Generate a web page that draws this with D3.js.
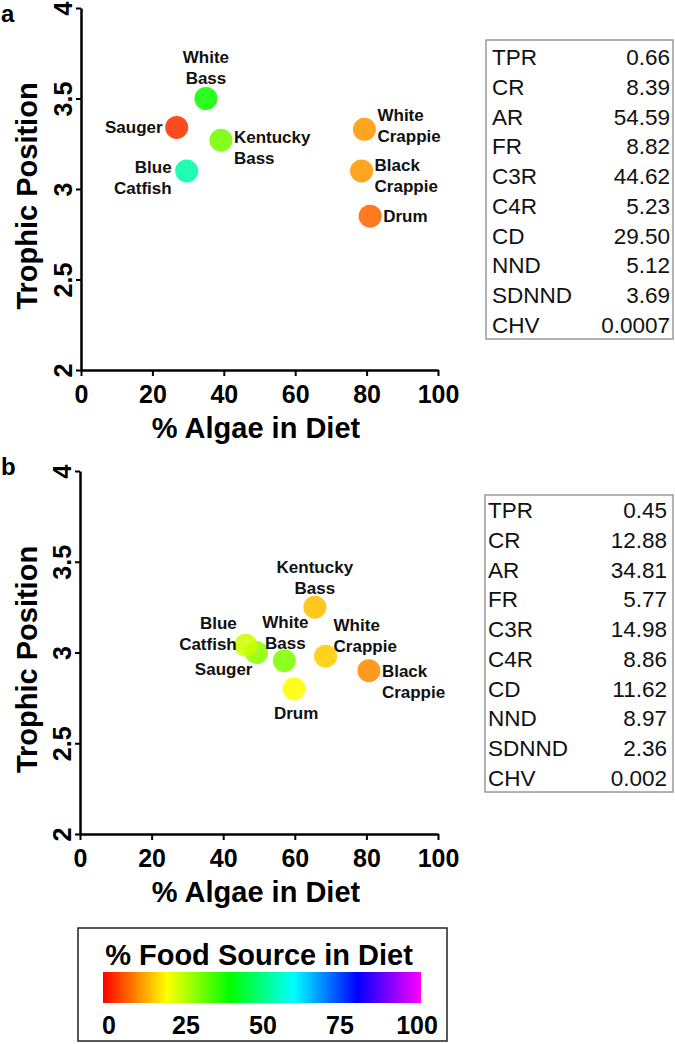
<!DOCTYPE html>
<html>
<head>
<meta charset="utf-8">
<script src="https://cdn.jsdelivr.net/npm/d3@7"></script>
<style>
  html, body { margin: 0; padding: 0; background: #fff; }
  svg { display: block; }
  text { font-family: "Liberation Sans", Arial, Helvetica, sans-serif; }
</style>
</head>
<body>
<svg id="chart" width="675" height="1044"></svg>
<script>
// ---------- data ----------
const species = ["White Bass", "Sauger", "Kentucky Bass", "Blue Catfish", "White Crappie", "Black Crappie", "Drum"];

// panel a
const algaeA = [35.0, 26.8, 39.2, 29.6, 79.4, 78.6, 81.0];
const trophicA = [3.50, 3.34, 3.27, 3.10, 3.33, 3.10, 2.85];
const foodA = [39, 4, 31, 53, 12, 12, 8];

// panel b
const algaeB = [57.1, 49.3, 65.6, 46.3, 68.6, 80.7, 59.8];
const trophicB = [2.955, 3.00, 3.25, 3.04, 2.98, 2.90, 2.80];
const foodB = [30, 29, 15, 24, 16, 11, 20];

const xTicks = [0, 20, 40, 60, 80, 100];
const yTicks = [2, 2.5, 3, 3.5, 4];

const statLabels = ["TPR", "CR", "AR", "FR", "C3R", "C4R", "CD", "NND", "SDNND", "CHV"];
const statsA = ["0.66", "8.39", "54.59", "8.82", "44.62", "5.23", "29.50", "5.12", "3.69", "0.0007"];
const statsB = ["0.45", "12.88", "34.81", "5.77", "14.98", "8.86", "11.62", "8.97", "2.36", "0.002"];

const legendTicks = [0, 25, 50, 75, 100];
const rainbowStops = [0, 20, 40, 60, 80, 100];
const rainbowColors = ["#ff0000", "#ffff00", "#00ff00", "#00ffff", "#0000ff", "#ff00ff"];

// label placement (layout, not data): [anchor, dx, dy]
const labelLayoutA = [["middle", 0, -42], ["end", -14, 0], ["start", 13, -3], ["end", -15, -4], ["start", 13, -14], ["start", 13, -6], ["start", 13, 0]];
const labelLayoutB = [["middle", 1, -39], ["end", -4, 16], ["middle", 0, -40], ["end", -9, -22], ["start", 8, -31], ["start", 13, 0], ["middle", 2, 24]];

// ---------- drawing ----------
const svg = d3.select("#chart");
const color = d3.scaleLinear().domain(rainbowStops).range(rainbowColors).interpolate(d3.interpolateRgb);

function panel(cfg) {
  const x = d3.scaleLinear().domain([0, 100]).range([cfg.x0, cfg.x1]);
  const y = d3.scaleLinear().domain([2, 4]).range([cfg.yBottom, cfg.yTop]);
  const g = svg.append("g");

  // x axis
  const xa = g.append("g").attr("transform", `translate(0,${cfg.yBottom})`)
    .call(d3.axisBottom(x).tickValues(xTicks).tickFormat(d3.format("d")).tickSize(6).tickSizeOuter(0));
  // y axis
  const ya = g.append("g").attr("transform", `translate(${cfg.x0},0)`)
    .call(d3.axisLeft(y).tickValues(yTicks).tickFormat(d => d).tickSize(5).tickSizeOuter(0));

  [xa, ya].forEach(a => {
    a.select(".domain").attr("stroke", "#000").attr("stroke-width", 2.5);
    a.selectAll(".tick line").attr("stroke", "#000").attr("stroke-width", 2);
    a.selectAll(".tick text").attr("fill", "#000").attr("font-size", 25).attr("font-weight", "bold")
      .attr("font-family", "Liberation Sans, Arial, sans-serif");
  });
  xa.selectAll(".tick text").attr("y", 33).attr("dy", 0);
  ya.selectAll(".tick text").attr("x", 0).attr("y", -9).attr("dy", 0)
    .attr("text-anchor", "middle").attr("transform", "rotate(-90)");

  // axis titles
  g.append("text").attr("x", 256).attr("y", cfg.yBottom + 68)
    .attr("text-anchor", "middle").attr("font-size", 29).attr("font-weight", "bold")
    .text("% Algae in Diet");
  g.append("text")
    .attr("transform", `translate(37,${(cfg.yTop + cfg.yBottom) / 2 + 7}) rotate(-90)`)
    .attr("text-anchor", "middle").attr("font-size", 29).attr("font-weight", "bold")
    .text("Trophic Position");

  // panel letter
  g.append("text").attr("x", 1).attr("y", cfg.letterY)
    .attr("font-size", 24).attr("font-weight", "bold").text(cfg.letter);

  // points
  const pts = species.map((s, i) => ({ name: s, ax: cfg.algae[i], tp: cfg.trophic[i], food: cfg.food[i], lay: cfg.layout[i] }));
  g.selectAll("circle.pt").data(pts).enter().append("circle")
    .attr("class", "pt")
    .attr("cx", d => x(d.ax)).attr("cy", d => y(d.tp)).attr("r", 11.5)
    .attr("fill", d => color(d.food)).attr("fill-opacity", 0.88);

  // labels
  pts.forEach(d => {
    const lines = d.name === "Sauger" || d.name === "Drum" ? [d.name] : d.name.split(" ");
    const t = g.append("text")
      .attr("text-anchor", d.lay[0])
      .attr("font-size", 17).attr("font-weight", "bold").attr("fill", "#111");
    lines.forEach((ln, k) => {
      t.append("tspan").attr("x", x(d.ax) + d.lay[1])
        .attr("y", y(d.tp) + d.lay[2] + 6 + k * 21).text(ln);
    });
  });

  // stats table
  const tb = cfg.table;
  g.append("rect").attr("x", tb.x0).attr("y", tb.y0).attr("width", tb.x1 - tb.x0).attr("height", tb.y1 - tb.y0)
    .attr("fill", "none").attr("stroke", "#9a9a9a").attr("stroke-width", 1.5);
  const row = d3.scalePoint().domain(statLabels).range([tb.rowFirst, tb.rowLast]);
  statLabels.forEach((lab, i) => {
    g.append("text").attr("x", tb.labelX).attr("y", row(lab) + 8)
      .attr("font-size", 22.5).attr("fill", "#111").text(lab);
    g.append("text").attr("x", tb.valueX).attr("y", row(lab) + 8)
      .attr("font-size", 22.5).attr("fill", "#111").attr("text-anchor", "end").text(cfg.stats[i]);
  });
}

panel({
  letter: "a", letterY: 22,
  x0: 81, x1: 438, yTop: 8, yBottom: 370,
  algae: algaeA, trophic: trophicA, food: foodA, layout: labelLayoutA, stats: statsA,
  table: { x0: 486, x1: 673, y0: 40, y1: 339, rowFirst: 57, rowLast: 325, labelX: 492, valueX: 670 }
});
panel({
  letter: "b", letterY: 475,
  x0: 80, x1: 438, yTop: 471, yBottom: 834,
  algae: algaeB, trophic: trophicB, food: foodB, layout: labelLayoutB, stats: statsB,
  table: { x0: 485, x1: 673, y0: 495, y1: 792, rowFirst: 510, rowLast: 778, labelX: 488, valueX: 667 }
});

// ---------- colour legend ----------
const defs = svg.append("defs");
const grad = defs.append("linearGradient").attr("id", "rainbow").attr("x1", "0%").attr("x2", "100%").attr("y1", "0%").attr("y2", "0%");
rainbowStops.forEach((s, i) => {
  grad.append("stop").attr("offset", s + "%").attr("stop-color", rainbowColors[i]);
});
const lg = svg.append("g");
lg.append("rect").attr("x", 78).attr("y", 928).attr("width", 369).attr("height", 113)
  .attr("fill", "#fff").attr("stroke", "#222").attr("stroke-width", 1.5);
lg.append("text").attr("x", 259).attr("y", 965).attr("text-anchor", "middle")
  .attr("font-size", 29).attr("font-weight", "bold").text("% Food Source in Diet");
lg.append("rect").attr("x", 103).attr("y", 972).attr("width", 318).attr("height", 31).attr("fill", "url(#rainbow)");
const lx = d3.scaleLinear().domain([0, 100]).range([109, 417]);
lg.selectAll("text.lt").data(legendTicks).enter().append("text").attr("class", "lt")
  .attr("x", d => lx(d)).attr("y", 1034).attr("text-anchor", "middle")
  .attr("font-size", 25).attr("font-weight", "bold").text(d => d);
</script>
</body>
</html>
